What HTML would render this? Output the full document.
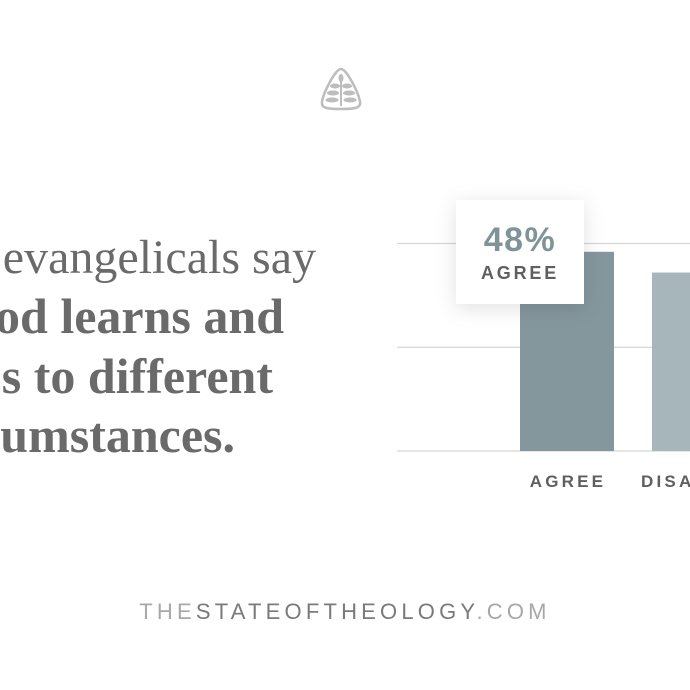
<!DOCTYPE html>
<html><head><meta charset="utf-8"><style>
html,body{margin:0;padding:0;background:#fff;}
#root{position:relative;width:690px;height:690px;overflow:hidden;background:#fff;}
.hl{position:absolute;white-space:nowrap;font-family:"Liberation Serif",serif;font-size:48px;color:#6a6a6a;text-align:right;line-height:1;}
.b{font-weight:bold;font-size:50px;}
.footer{position:absolute;left:0;width:690px;top:599px;text-align:center;font-family:"Liberation Sans",sans-serif;font-size:22px;letter-spacing:4.2px;color:#7a7a7a;}
.footer .lt{color:#a8a8a8;}
</style></head><body>
<div id="root">
<svg style="position:absolute;left:319px;top:66px" width="44" height="46" viewBox="0 0 44 46">
<path d="M22 3 C28 3 40 28 41 36 C42 42 36 43 22 43 C8 43 2 42 3 36 C4 28 16 3 22 3Z" fill="none" stroke="#bdbdbd" stroke-width="2.5"/>
<path d="M22 40 V14" stroke="#bdbdbd" stroke-width="2"/>
<ellipse cx="22" cy="12" rx="2.5" ry="4" fill="#bdbdbd"/>
<ellipse cx="16" cy="20" rx="5" ry="2.5" fill="#bdbdbd"/><ellipse cx="28" cy="20" rx="5" ry="2.5" fill="#bdbdbd"/>
<ellipse cx="14" cy="27" rx="6" ry="2.5" fill="#bdbdbd"/><ellipse cx="30" cy="27" rx="6" ry="2.5" fill="#bdbdbd"/>
<ellipse cx="13" cy="34" rx="6.5" ry="2.5" fill="#bdbdbd"/><ellipse cx="31" cy="34" rx="6.5" ry="2.5" fill="#bdbdbd"/>
</svg>
<div class="hl" style="right:374px;top:234px;">evangelicals say</div>
<div class="hl b" style="right:406px;top:291px;">od learns and</div>
<div class="hl b" style="right:417px;top:351px;">s to different</div>
<div class="hl b" style="right:455px;top:410px;">umstances.</div>
<svg id="chart" style="position:absolute;left:0;top:0" width="690" height="690">
<defs><filter id="sh" x="-50%" y="-50%" width="200%" height="200%"><feDropShadow dx="0" dy="4" stdDeviation="10" flood-color="#000" flood-opacity="0.12"/></filter></defs>
<g id="grid"></g><g id="bars"></g><g id="labels"></g>
<g>
<rect x="456" y="200" width="128" height="104" fill="#fff" filter="url(#sh)"/>
<text x="520" y="251" text-anchor="middle" font-family="Liberation Sans, sans-serif" font-weight="bold" font-size="34" fill="#7f9498" letter-spacing="1.5">48%</text>
<text x="520" y="279" text-anchor="middle" font-family="Liberation Sans, sans-serif" font-weight="bold" font-size="18" fill="#5f5f5f" letter-spacing="2.8">AGREE</text>
</g>
</svg>
<div class="footer"><span class="lt">THE</span>STATEOFTHEOLOGY<span class="lt">.COM</span></div>
</div>
<script>
const categories=["AGREE","DISAGREE"];
const values=[48,43];
const gridTicks=[0,25,50];
const colors=["#84979d","#a6b6ba"];
const NS="http://www.w3.org/2000/svg";
const baseY=451,pxPer=4.15;
function y(v){return baseY-v*pxPer;}
function x(i){return 520+i*132;}
const g=document.getElementById('grid');
gridTicks.forEach(t=>{const l=document.createElementNS(NS,'line');


l.setAttribute('x1',397);l.setAttribute('x2',690);l.setAttribute('y1',y(t));l.setAttribute('y2',y(t));
l.setAttribute('stroke','#d6d6d6');l.setAttribute('stroke-width','1.3');g.appendChild(l);});
const b=document.getElementById('bars'),lb=document.getElementById('labels');
values.forEach((v,i)=>{const r=document.createElementNS(NS,'rect');


r.setAttribute('x',x(i));r.setAttribute('width',94);r.setAttribute('y',y(v));r.setAttribute('height',baseY-y(v));
r.setAttribute('fill',colors[i]);b.appendChild(r);
const t=document.createElementNS(NS,'text');


t.setAttribute('x',x(i)+(i==0?48:-11));t.setAttribute('y',487);
t.setAttribute('text-anchor',i==0?'middle':'start');
t.setAttribute('font-family','Liberation Sans, sans-serif');t.setAttribute('font-weight','bold');
t.setAttribute('font-size','17');t.setAttribute('fill','#5f5f5f');t.setAttribute('letter-spacing','3.2');
t.textContent=categories[i];lb.appendChild(t);});
</script>
</body></html>
